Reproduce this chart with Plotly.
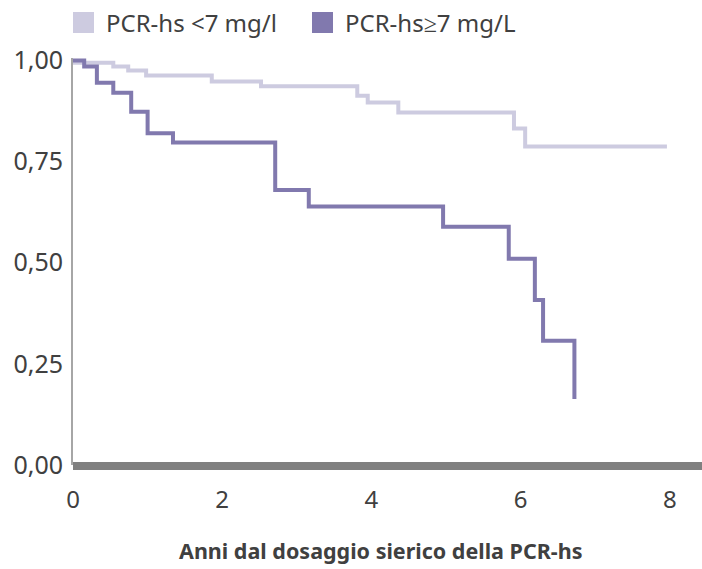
import plotly.graph_objects as go

# Data
series_names = ["PCR-hs <7 mg/l", "PCR-hs≥7 mg/L"]
low_x = [0, 0.54, 0.74, 0.98, 1.86, 2.52, 3.81, 3.95, 4.36, 5.91, 6.06, 7.96]
low_y = [0.994, 0.985, 0.975, 0.963, 0.948, 0.936, 0.913, 0.896, 0.871, 0.832, 0.787, 0.787]
high_x = [0, 0.15, 0.32, 0.54, 0.78, 1.0, 1.34, 2.71, 3.16, 4.96, 5.84, 6.19, 6.30, 6.72]
high_y = [1.0, 0.985, 0.945, 0.92, 0.873, 0.82, 0.797, 0.68, 0.639, 0.589, 0.51, 0.408, 0.307, 0.163]
x_ticks = [0, 2, 4, 6, 8]
y_ticks = [0, 0.25, 0.5, 0.75, 1.0]
y_tick_labels = ["0,00", "0,25", "0,50", "0,75", "1,00"]
x_title = "Anni dal dosaggio sierico della PCR-hs"

LIGHT = "#CDCBE0"
DARK = "#8179AE"
FONT = "Noto Sans"
TXT = "#404040"

W, H = 702, 569
L, T, B = 73, 58, 104
PW, PH = W - L, H - T - B


def px(xp):
    return (xp - L) / PW


def py(yp):
    return (H - B - yp) / PH


fig = go.Figure()
fig.add_trace(go.Scatter(x=low_x, y=low_y, mode="lines", name=series_names[0],
                         line=dict(color=LIGHT, width=4, shape="hv"), showlegend=False, hoverinfo="skip"))
fig.add_trace(go.Scatter(x=high_x, y=high_y, mode="lines", name=series_names[1],
                         line=dict(color=DARK, width=4, shape="hv"), showlegend=False, hoverinfo="skip"))

# thick x-axis baseline
fig.add_shape(type="line", xref="paper", yref="paper", x0=0, x1=1, y0=py(466), y1=py(466),
              line=dict(color="#808080", width=8), layer="above")

# manual legend (square swatches + text)
for name, col, sx in zip(series_names, [LIGHT, DARK], [73, 312]):
    fig.add_shape(type="rect", xref="paper", yref="paper", x0=px(sx), x1=px(sx + 21),
                  y0=py(33), y1=py(12), fillcolor=col, line=dict(width=0))
    fig.add_annotation(text=name, xref="paper", yref="paper", x=px(sx + 31), y=py(22.5),
                       xanchor="left", yanchor="middle", showarrow=False,
                       font=dict(family=FONT, size=24, color=TXT))

fig.add_annotation(text="<b>" + x_title + "</b>", xref="paper", yref="paper",
                   x=px(380), y=py(550), showarrow=False,
                   font=dict(family=FONT, size=21.5, color=TXT), yanchor="middle", xanchor="center")

fig.update_layout(
    width=W, height=H,
    margin=dict(l=L, r=0, t=T, b=B, autoexpand=False),
    paper_bgcolor="white", plot_bgcolor="white",
    font=dict(family=FONT, size=22, color=TXT),
    showlegend=False,
    xaxis=dict(range=[0, 8.43], tickvals=x_ticks, ticktext=[str(v) for v in x_ticks],
               showgrid=False, zeroline=False, showline=False, ticks="", automargin=False,
               tickfont=dict(family=FONT, size=24, color=TXT), ticklabelstandoff=18),
    yaxis=dict(range=[0, 1.006], tickvals=y_ticks, ticktext=y_tick_labels, automargin=False,
               showgrid=False, zeroline=False, showline=True, linecolor="#A6A6A6", linewidth=2, ticks="",
               tickfont=dict(family=FONT, size=25, color=TXT), ticklabelstandoff=3),
)

fig.write_html("out.html", config={"displayModeBar": False, "staticPlot": True},
               post_script="document.body.style.margin='0';document.body.style.overflow='hidden';")
